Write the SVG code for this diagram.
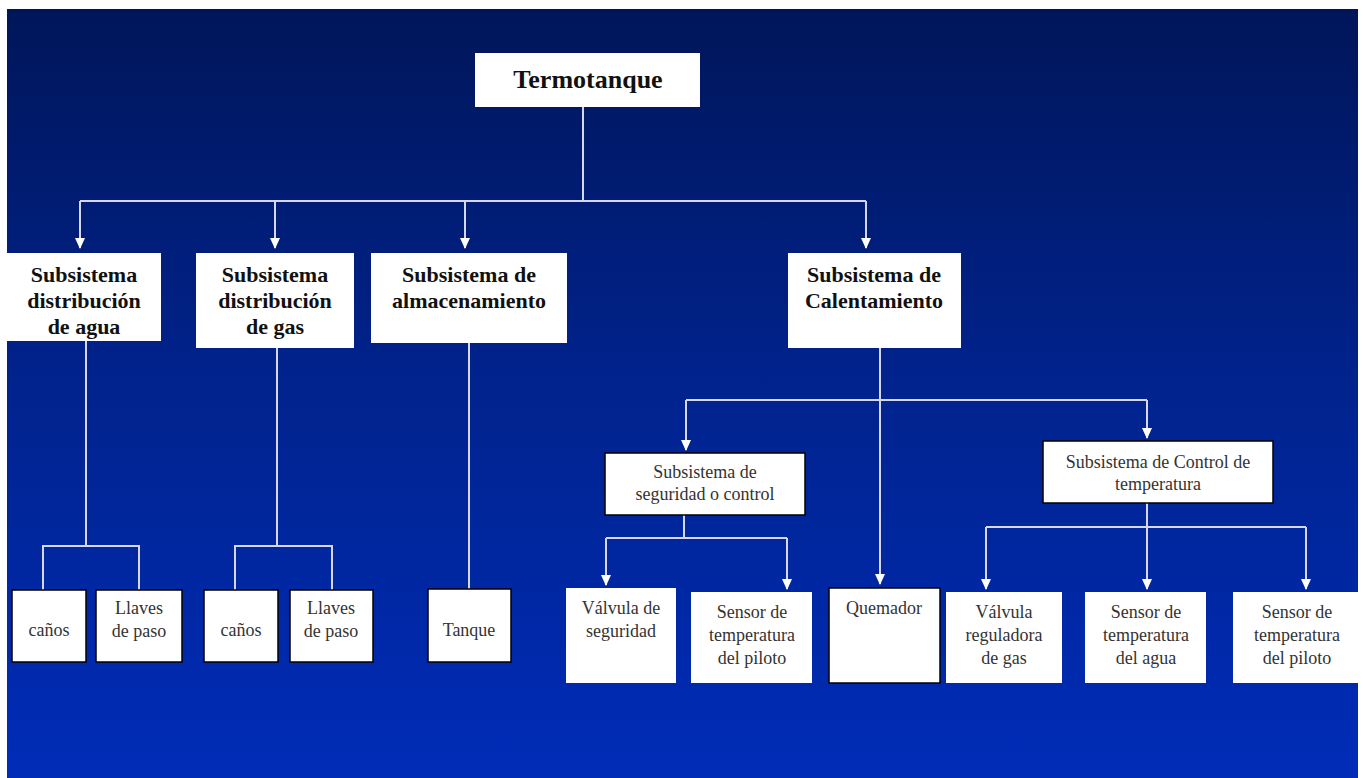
<svg xmlns="http://www.w3.org/2000/svg" width="1363" height="778" viewBox="0 0 1363 778">
<defs>
<linearGradient id="bg" x1="0" y1="0" x2="0" y2="1">
<stop offset="0" stop-color="#00165a"/>
<stop offset="0.5" stop-color="#00238e"/>
<stop offset="1" stop-color="#002cb8"/>
</linearGradient>
<marker id="arr" markerWidth="12" markerHeight="12" refX="10" refY="6" orient="auto" markerUnits="userSpaceOnUse" viewBox="0 0 12 12">
<path d="M0,1 L11,6 L0,11 Z" fill="#ffffff"/>
</marker>
</defs>
<style>
.box{fill:#ffffff;}
.bb{fill:#ffffff;stroke:#000000;stroke-width:1.5;}
.t1{font-family:"Liberation Serif",serif;font-weight:bold;font-size:22px;fill:#111;text-anchor:middle;}
.t0{font-family:"Liberation Serif",serif;font-weight:bold;font-size:26px;fill:#111;text-anchor:middle;}
.t2{font-family:"Liberation Serif",serif;font-size:18px;fill:#333;text-anchor:middle;}
.t3{font-family:"Liberation Serif",serif;font-size:18px;fill:#333;text-anchor:middle;}
.c{fill:none;stroke:#d6d8ea;stroke-width:2;}
.ca{fill:none;stroke:#d6d8ea;stroke-width:2;}
</style>
<rect x="0" y="0" width="1363" height="778" fill="#ffffff"/>
<rect x="7" y="9" width="1351" height="769" fill="url(#bg)"/>

<g id="connectors">
<path class="c" d="M583,107 V201 M80,201 H866"/>
<path class="ca" d="M80,201 V248" marker-end="url(#arr)"/>
<path class="ca" d="M275,201 V248" marker-end="url(#arr)"/>
<path class="ca" d="M465,201 V248" marker-end="url(#arr)"/>
<path class="ca" d="M866,201 V248" marker-end="url(#arr)"/>
<path class="c" d="M86,341 V546 M43,590 V546 H139 V590"/>
<path class="c" d="M277,348 V546 M235,590 V546 H332 V590"/>
<path class="c" d="M469,343 V589"/>
<path class="ca" d="M880,348 V584" marker-end="url(#arr)"/>
<path class="c" d="M686,400 H1147"/>
<path class="ca" d="M686,400 V450" marker-end="url(#arr)"/>
<path class="ca" d="M1147,400 V438" marker-end="url(#arr)"/>
<path class="c" d="M684,515 V538 M606,538 H787"/>
<path class="ca" d="M606,538 V585" marker-end="url(#arr)"/>
<path class="ca" d="M787,538 V589" marker-end="url(#arr)"/>
<path class="c" d="M986,527 H1306"/>
<path class="ca" d="M1147,503 V589" marker-end="url(#arr)"/>
<path class="ca" d="M986,527 V589" marker-end="url(#arr)"/>
<path class="ca" d="M1306,527 V589" marker-end="url(#arr)"/>
</g>

<g id="n-termotanque"><rect class="box" x="475" y="53" width="225" height="54"/><text class="t0" x="588" y="88">Termotanque</text></g>

<g id="n-agua"><rect class="box" x="7" y="253" width="154" height="88"/>
<text class="t1" x="84" y="282">Subsistema</text><text class="t1" x="84" y="308">distribución</text><text class="t1" x="84" y="334">de agua</text></g>
<g id="n-gas"><rect class="box" x="196" y="253" width="158" height="95"/>
<text class="t1" x="275" y="282">Subsistema</text><text class="t1" x="275" y="308">distribución</text><text class="t1" x="275" y="334">de gas</text></g>
<g id="n-almac"><rect class="box" x="371" y="253" width="196" height="90"/>
<text class="t1" x="469" y="282">Subsistema de</text><text class="t1" x="469" y="308">almacenamiento</text></g>
<g id="n-calent"><rect class="box" x="788" y="253" width="173" height="95"/>
<text class="t1" x="874" y="282">Subsistema de</text><text class="t1" x="874" y="308">Calentamiento</text></g>

<g id="n-seguridad"><rect class="bb" x="605" y="453" width="200" height="62"/>
<text class="t2" x="705" y="478">Subsistema de</text><text class="t2" x="705" y="500">seguridad o control</text></g>
<g id="n-control"><rect class="bb" x="1043" y="441" width="230" height="62"/>
<text class="t2" x="1158" y="468">Subsistema de Control de</text><text class="t2" x="1158" y="490">temperatura</text></g>

<g id="n-canos1"><rect class="bb" x="12" y="590" width="74" height="72"/><text class="t3" x="49" y="636">caños</text></g>
<g id="n-llaves1"><rect class="bb" x="96" y="590" width="86" height="72"/><text class="t3" x="139" y="614">Llaves</text><text class="t3" x="139" y="637">de paso</text></g>
<g id="n-canos2"><rect class="bb" x="204" y="590" width="74" height="72"/><text class="t3" x="241" y="636">caños</text></g>
<g id="n-llaves2"><rect class="bb" x="290" y="590" width="83" height="72"/><text class="t3" x="331" y="614">Llaves</text><text class="t3" x="331" y="637">de paso</text></g>
<g id="n-tanque"><rect class="bb" x="428" y="589" width="83" height="73"/><text class="t3" x="469" y="636">Tanque</text></g>

<g id="n-valvseg"><rect class="box" x="566" y="588" width="110" height="95"/><text class="t3" x="621" y="614">Válvula de</text><text class="t3" x="621" y="637">seguridad</text></g>
<g id="n-sensorpil1"><rect class="box" x="691" y="592" width="121" height="91"/><text class="t3" x="752" y="618">Sensor de</text><text class="t3" x="752" y="641">temperatura</text><text class="t3" x="752" y="664">del piloto</text></g>
<g id="n-quemador"><rect class="bb" x="829" y="588" width="111" height="95"/><text class="t3" x="884" y="614">Quemador</text></g>
<g id="n-valvreg"><rect class="box" x="946" y="592" width="116" height="91"/><text class="t3" x="1004" y="618">Válvula</text><text class="t3" x="1004" y="641">reguladora</text><text class="t3" x="1004" y="664">de gas</text></g>
<g id="n-sensoragua"><rect class="box" x="1085" y="592" width="121" height="91"/><text class="t3" x="1146" y="618">Sensor de</text><text class="t3" x="1146" y="641">temperatura</text><text class="t3" x="1146" y="664">del agua</text></g>
<g id="n-sensorpil2"><rect class="box" x="1233" y="592" width="125" height="91"/><text class="t3" x="1297" y="618">Sensor de</text><text class="t3" x="1297" y="641">temperatura</text><text class="t3" x="1297" y="664">del piloto</text></g>
</svg>
